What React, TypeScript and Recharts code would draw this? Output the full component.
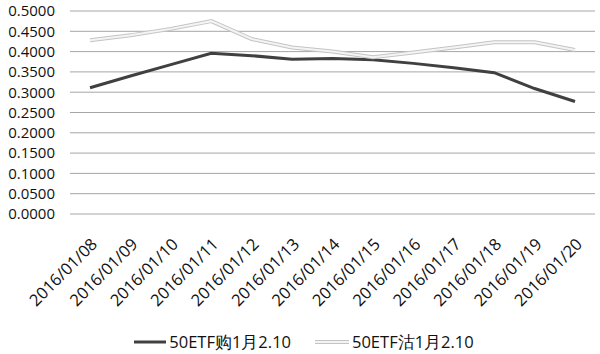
import { LineChart, Line, CartesianGrid, XAxis, YAxis, Legend } from "recharts";

const dates = [
  "2016/01/08", "2016/01/09", "2016/01/10", "2016/01/11", "2016/01/12",
  "2016/01/13", "2016/01/14", "2016/01/15", "2016/01/16", "2016/01/17",
  "2016/01/18", "2016/01/19", "2016/01/20",
];
const callPrices = [0.311, 0.34, 0.368, 0.396, 0.39, 0.381, 0.383, 0.38, 0.371, 0.36, 0.348, 0.309, 0.277];
const putPrices = [0.428, 0.44, 0.456, 0.475, 0.431, 0.41, 0.4, 0.386, 0.398, 0.41, 0.423, 0.423, 0.404];
const yTicks = [0, 0.05, 0.1, 0.15, 0.2, 0.25, 0.3, 0.35, 0.4, 0.45, 0.5];
const callName = "50ETF购1月2.10";
const putName = "50ETF沽1月2.10";

const data = dates.map((d, i) => ({ date: d, call: callPrices[i], put: putPrices[i] }));

const font = "'Open Sans', sans-serif";

function LegendBox() {
  return (
    <div style={{ display: "flex", justifyContent: "center", alignItems: "center", fontFamily: font, fontSize: 16.5, color: "#111", height: 30, paddingTop: 3, paddingLeft: 12 }}>
      <svg width={34} height={10} style={{ marginRight: 2 }}>
        <line x1={1} y1={5} x2={33} y2={5} stroke="#404040" strokeWidth={3} />
      </svg>
      <span style={{ marginRight: 23 }}>{callName}</span>
      <svg width={36} height={10} style={{ marginRight: 2 }}>
        <line x1={1} y1={5} x2={35} y2={5} stroke="#c4c4c4" strokeWidth={4} />
        <line x1={1} y1={5} x2={35} y2={5} stroke="#f4f4f4" strokeWidth={2} />
      </svg>
      <span>{putName}</span>
    </div>
  );
}

export default function App() {
  return (
    <div style={{ position: "absolute", left: 0, top: 0, background: "#fff" }}>
      <LineChart width={600} height={354} data={data} margin={{ top: 11, right: 5, bottom: 0, left: 0 }}>
        <CartesianGrid vertical={false} stroke="#a6a6a6" strokeWidth={1} />
        <XAxis
          dataKey="date"
          height={110}
          padding={{ left: 20, right: 20 }}
          axisLine={false}
          tickLine={false}
          interval={0}
          angle={-45}
          textAnchor="end"
          tickMargin={17}
          tick={{ fill: "#111", fontSize: 16.5, fontFamily: font }}
        />
        <YAxis
          width={70}
          domain={[0, 0.5]}
          ticks={yTicks}
          interval={0}
          axisLine={false}
          tickLine={false}
          tickMargin={9}
          tickFormatter={(v: number) => v.toFixed(4)}
          tick={{ fill: "#111", fontSize: 15, fontFamily: font }}
        />
        <Legend verticalAlign="bottom" height={30} content={() => <LegendBox />} />
        <Line dataKey="call" name={callName} stroke="#404040" strokeWidth={3} dot={false} isAnimationActive={false} />
        <Line dataKey="put" name={putName} stroke="#c4c4c4" strokeWidth={4} dot={false} legendType="none" isAnimationActive={false} />
        <Line dataKey="put" name={putName + " "} stroke="#f4f4f4" strokeWidth={2} dot={false} legendType="none" isAnimationActive={false} />
      </LineChart>
    </div>
  );
}
